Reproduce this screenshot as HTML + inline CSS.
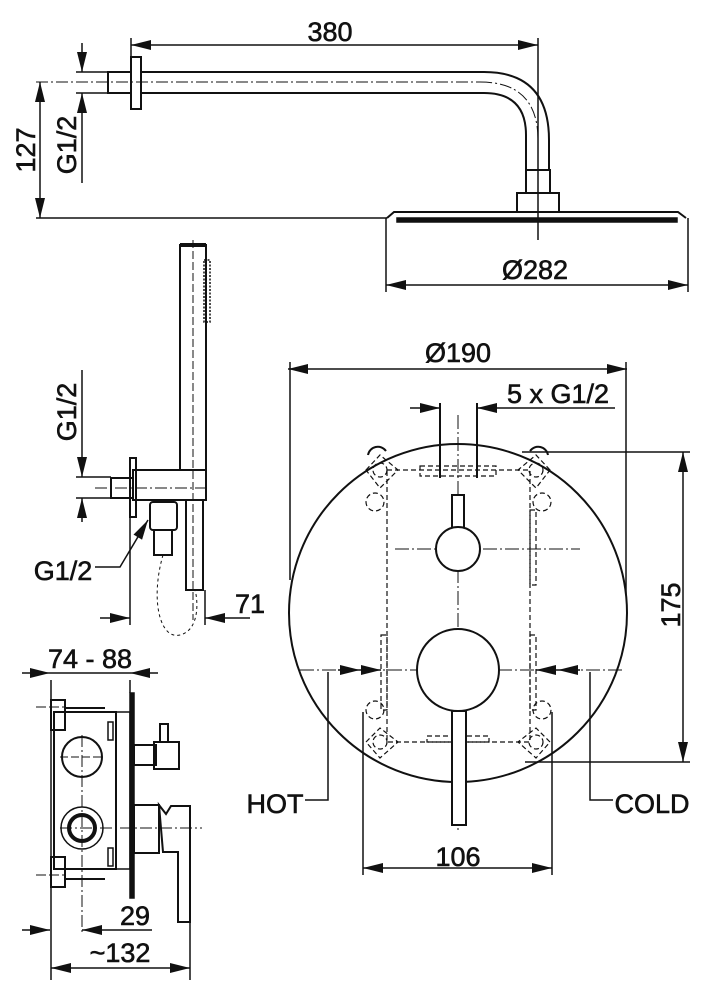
<!DOCTYPE html>
<html><head><meta charset="utf-8"><style>
html,body{margin:0;padding:0;background:#fff;}
svg{display:block;}
text{font-family:"Liberation Sans",Arial,sans-serif;font-size:27px;fill:#111;stroke:#111;stroke-width:0.6;text-anchor:middle;}
</style></head><body>
<svg width="702" height="988" viewBox="0 0 702 988" xmlns="http://www.w3.org/2000/svg">
<defs>
<marker id="a" viewBox="0 0 20 10" refX="20" refY="5" markerWidth="20" markerHeight="10" markerUnits="userSpaceOnUse" orient="auto-start-reverse"><path d="M0,0 L20,5 L0,10 z" fill="#111"/></marker>
</defs>
<g stroke="#111" stroke-width="1.5" fill="none">
<line x1="131" y1="45" x2="538" y2="45" marker-start="url(#a)" marker-end="url(#a)"/>
<line x1="131" y1="38" x2="131" y2="57"/>
<line x1="538" y1="38" x2="538" y2="240"/>
<rect x="108" y="72" width="23" height="21" stroke-width="2"/>
<rect x="131" y="57" width="10" height="52" stroke-width="2"/>
<path d="M141,72 H484 Q549,72 549,140 V170" stroke-width="2"/>
<path d="M141,93 H484 Q526,93 526,135 V170" stroke-width="2"/>
<line x1="36" y1="82" x2="480" y2="82" stroke-dasharray="12,3,2,3" stroke-width="1"/>
<path d="M480,82 Q538,82 538,140" stroke-dasharray="12,3,2,3" stroke-width="1"/>
<rect x="526" y="170" width="24" height="23" stroke-width="2"/>
<rect x="517" y="193" width="42" height="19" stroke-width="2"/>
<path d="M387,218 L394,212 H678 L686,218" stroke-width="2"/>
<rect x="397" y="218" width="280" height="4" fill="#111"/>
<line x1="36" y1="218" x2="387" y2="218"/>
<line x1="40" y1="82" x2="40" y2="218" marker-start="url(#a)" marker-end="url(#a)"/>
<line x1="82" y1="43" x2="82" y2="72" marker-end="url(#a)"/>
<line x1="82" y1="183" x2="82" y2="93" marker-end="url(#a)"/>
<line x1="76" y1="72" x2="108" y2="72"/>
<line x1="76" y1="93" x2="108" y2="93"/>
<line x1="386" y1="218" x2="386" y2="292"/>
<line x1="688" y1="218" x2="688" y2="292"/>
<line x1="386" y1="285" x2="688" y2="285" marker-start="url(#a)" marker-end="url(#a)"/>
</g>
<text x="330" y="41">380</text>
<text x="535" y="279">Ø282</text>
<text transform="translate(35,150) rotate(-90)">127</text>
<text transform="translate(76,145) rotate(-90)">G1/2</text>

<g stroke="#111" stroke-width="1.5" fill="none">
<rect x="180" y="245" width="26" height="225" stroke-width="2"/>
<line x1="180" y1="245" x2="206" y2="245" stroke-width="4"/>
<line x1="193" y1="240" x2="193" y2="620" stroke-dasharray="8,3" stroke-width="1"/>
<rect x="204" y="260" width="6" height="62" stroke-dasharray="2,1.5"/>
<rect x="133" y="470" width="73" height="30" stroke-width="2"/>
<rect x="111" y="478" width="22" height="20" stroke-width="2"/>
<rect x="130" y="458" width="6" height="59" stroke-width="2"/>
<line x1="95" y1="488" x2="210" y2="488" stroke-dasharray="12,3,2,3" stroke-width="1"/>
<line x1="82" y1="460" x2="82" y2="477" marker-end="url(#a)"/>
<line x1="82" y1="522" x2="82" y2="498" marker-end="url(#a)"/>
<line x1="82" y1="370" x2="82" y2="460"/>
<line x1="76" y1="477" x2="111" y2="477"/>
<line x1="76" y1="498" x2="111" y2="498"/>
<rect x="150" y="502" width="27" height="28" rx="3" stroke-width="2"/>
<rect x="154" y="530" width="18" height="25" stroke-width="2"/>
<rect x="186" y="500" width="17" height="90" stroke-width="2"/>
<path d="M163,555 C150,600 160,640 180,635 C200,630 198,600 195,590" stroke-dasharray="3,3" stroke-width="1"/>
<polyline points="95,567 120,567 148,520" marker-end="url(#a)"/>
<line x1="130" y1="517" x2="130" y2="625"/>
<line x1="205" y1="590" x2="205" y2="625"/>
<line x1="100" y1="618" x2="130" y2="618" marker-end="url(#a)"/>
<line x1="250" y1="618" x2="205" y2="618" marker-end="url(#a)"/>
</g>
<text transform="translate(76,412) rotate(-90)">G1/2</text>
<text x="63" y="580">G1/2</text>
<text x="250" y="613">71</text>

<g stroke="#111" stroke-width="1.5" fill="none">
<line x1="288" y1="369" x2="627" y2="369" marker-start="url(#a)" marker-end="url(#a)"/>
<line x1="290" y1="362" x2="290" y2="580"/>
<line x1="626" y1="362" x2="626" y2="595"/>
<circle cx="458" cy="613" r="169" stroke-width="2"/>
<line x1="440" y1="403" x2="440" y2="478" stroke-width="2"/>
<line x1="477" y1="403" x2="477" y2="478" stroke-width="2"/>
<line x1="410" y1="408" x2="440" y2="408" marker-end="url(#a)"/>
<line x1="615" y1="408" x2="477" y2="408" marker-end="url(#a)"/>
<g stroke-dasharray="5,3" stroke-width="1.2">
<rect x="387" y="470" width="143" height="272"/>
<rect x="420" y="466" width="76" height="10"/>
<rect x="427" y="736" width="62" height="6"/>
<path d="M366,470 L380,455 L398,470 L380,488 z"/>
<path d="M550,470 L536,455 L518,470 L536,488 z"/>
<path d="M366,742 L380,728 L398,742 L380,758 z"/>
<path d="M550,742 L536,728 L518,742 L536,758 z"/>
<circle cx="380" cy="470" r="7"/><circle cx="536" cy="470" r="7"/>
<circle cx="380" cy="742" r="7"/><circle cx="536" cy="742" r="7"/>
<circle cx="375" cy="502" r="9"/><circle cx="542" cy="502" r="9"/>
<circle cx="375" cy="710" r="9"/><circle cx="542" cy="710" r="9"/>
<rect x="381" y="635" width="6" height="75"/><rect x="530" y="510" width="6" height="75"/>
<rect x="530" y="635" width="6" height="75"/>
</g>
<path d="M368,455 a10,10 0 0 1 18,-4" stroke-width="2"/>
<path d="M530,451 a10,10 0 0 1 18,4" stroke-width="2"/>
<line x1="458" y1="415" x2="458" y2="830" stroke-dasharray="14,3,2,3" stroke-width="1"/>
<line x1="395" y1="549" x2="580" y2="549" stroke-dasharray="14,3,2,3" stroke-width="1"/>
<line x1="300" y1="670" x2="625" y2="670" stroke-dasharray="14,3,2,3" stroke-width="1"/>
<rect x="452" y="495" width="12" height="35" stroke-width="2" fill="#fff"/>
<circle cx="458" cy="549" r="22" stroke-width="2" fill="#fff"/>
<circle cx="458" cy="670" r="41" stroke-width="2" fill="#fff"/>
<rect x="452" y="711" width="14" height="114" stroke-width="2" fill="#fff"/>
<line x1="338" y1="670" x2="360" y2="670" marker-end="url(#a)"/>
<line x1="360" y1="670" x2="381" y2="670" marker-end="url(#a)"/>
<line x1="580" y1="670" x2="558" y2="670" marker-end="url(#a)"/>
<line x1="558" y1="670" x2="536" y2="670" marker-end="url(#a)"/>
<polyline points="328,672 328,800 305,800"/>
<polyline points="590,672 590,800 613,800"/>
<line x1="522" y1="452" x2="690" y2="452"/>
<line x1="525" y1="762" x2="690" y2="762"/>
<line x1="683" y1="452" x2="683" y2="762" marker-start="url(#a)" marker-end="url(#a)"/>
<line x1="363" y1="712" x2="363" y2="875"/>
<line x1="552" y1="712" x2="552" y2="875"/>
<line x1="363" y1="868" x2="552" y2="868" marker-start="url(#a)" marker-end="url(#a)"/>
</g>
<text x="458" y="362">Ø190</text>
<text x="558" y="403">5 x G1/2</text>
<text x="275" y="813">HOT</text>
<text x="652" y="813">COLD</text>
<text x="458" y="866">106</text>
<text transform="translate(680,605) rotate(-90)">175</text>

<g stroke="#111" stroke-width="1.5" fill="none">
<line x1="22" y1="673" x2="50" y2="673" marker-end="url(#a)"/>
<line x1="158" y1="673" x2="130" y2="673" marker-end="url(#a)"/>
<line x1="50" y1="673" x2="130" y2="673"/>
<line x1="51" y1="680" x2="51" y2="980"/>
<line x1="130" y1="680" x2="130" y2="693"/>
<rect x="54" y="712" width="62" height="157" stroke-width="2"/>
<rect x="116" y="712" width="14" height="157" stroke-width="1.5"/>
<rect x="130" y="693" width="4" height="205" fill="#111"/>
<rect x="51" y="700" width="14" height="30" stroke-width="2"/>
<rect x="51" y="857" width="14" height="30" stroke-width="2"/>
<line x1="65" y1="708" x2="105" y2="708" stroke-width="2"/>
<line x1="65" y1="879" x2="105" y2="879" stroke-width="2"/>
<rect x="108" y="722" width="5" height="18"/><rect x="108" y="848" width="5" height="18"/>
<line x1="36" y1="707" x2="65" y2="707" stroke-dasharray="10,3" stroke-width="1"/>
<line x1="36" y1="875" x2="65" y2="875" stroke-dasharray="10,3" stroke-width="1"/>
<circle cx="82" cy="757" r="20" stroke-width="2"/>
<line x1="60" y1="757" x2="104" y2="757" stroke-dasharray="8,3" stroke-width="1"/>
<circle cx="82" cy="828" r="21"/>
<circle cx="82" cy="828" r="13" stroke-width="4"/>
<line x1="82" y1="735" x2="82" y2="935" stroke-dasharray="12,3,2,3" stroke-width="1"/>
<line x1="60" y1="828" x2="202" y2="828" stroke-dasharray="12,3,2,3" stroke-width="1"/>
<rect x="134" y="745" width="22" height="20" stroke-width="2"/>
<rect x="154" y="742" width="25" height="27" stroke-width="2"/>
<rect x="160" y="724" width="8" height="18" stroke-width="2"/>
<rect x="134" y="805" width="25" height="48" stroke-width="2"/>
<path d="M159,805 L166,814 L171,806 H190 V922 H178 V852 H163 Z" stroke-width="2"/>
<line x1="190" y1="880" x2="190" y2="980"/>
<line x1="22" y1="930" x2="50" y2="930" marker-end="url(#a)"/>
<line x1="110" y1="930" x2="82" y2="930" marker-end="url(#a)"/>
<line x1="110" y1="930" x2="152" y2="930"/>
<line x1="51" y1="968" x2="190" y2="968" marker-start="url(#a)" marker-end="url(#a)"/>
</g>
<text x="90" y="668">74 - 88</text>
<text x="135" y="925">29</text>
<text x="120" y="962">~132</text>
</svg>
</body></html>
